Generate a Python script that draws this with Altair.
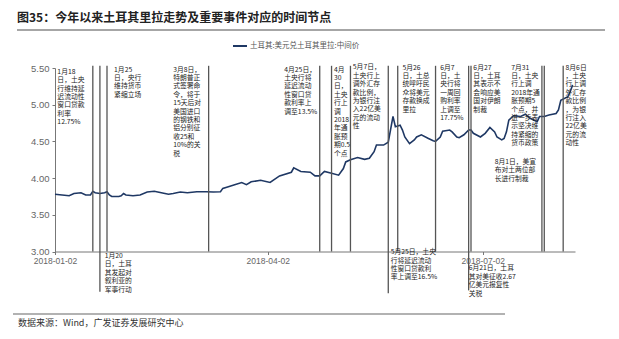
import altair as alt
import pandas as pd

# ---- series: USD/TRY central parity ----
dates = [
    "2018-01-02", "2018-01-05", "2018-01-08", "2018-01-10", "2018-01-13", "2018-01-15",
    "2018-01-17", "2018-01-18", "2018-01-19", "2018-01-21", "2018-01-23", "2018-01-24",
    "2018-01-25", "2018-01-26", "2018-01-29", "2018-01-30", "2018-01-31", "2018-02-01",
    "2018-02-04", "2018-02-07", "2018-02-10", "2018-02-13", "2018-02-16", "2018-02-19",
    "2018-02-21", "2018-02-24", "2018-02-27", "2018-03-03", "2018-03-07", "2018-03-10",
    "2018-03-13", "2018-03-14", "2018-03-16", "2018-03-19", "2018-03-22", "2018-03-24",
    "2018-03-26", "2018-03-30", "2018-04-03", "2018-04-07", "2018-04-12", "2018-04-13",
    "2018-04-16", "2018-04-20", "2018-04-22", "2018-04-24", "2018-04-26", "2018-04-29",
    "2018-05-02", "2018-05-04", "2018-05-05", "2018-05-07", "2018-05-10", "2018-05-13",
    "2018-05-15", "2018-05-17", "2018-05-18", "2018-05-21", "2018-05-23", "2018-05-25",
    "2018-05-26", "2018-05-28", "2018-05-29", "2018-05-30", "2018-06-01", "2018-06-03",
    "2018-06-04", "2018-06-06", "2018-06-09", "2018-06-11", "2018-06-12", "2018-06-14",
    "2018-06-15", "2018-06-18", "2018-06-19", "2018-06-21", "2018-06-22", "2018-06-24",
    "2018-06-26", "2018-06-27", "2018-06-28", "2018-07-01", "2018-07-03", "2018-07-05",
    "2018-07-07", "2018-07-08", "2018-07-10", "2018-07-11", "2018-07-12", "2018-07-13",
    "2018-07-15", "2018-07-18", "2018-07-20", "2018-07-22", "2018-07-25", "2018-07-26",
    "2018-07-28", "2018-07-30", "2018-08-02", "2018-08-03", "2018-08-04", "2018-08-07",
    "2018-08-08", "2018-08-09",
]
rates = [
    3.78, 3.77, 3.76, 3.79, 3.80, 3.77,
    3.77, 3.82, 3.80, 3.79, 3.80, 3.815,
    3.77, 3.75, 3.75, 3.76, 3.79, 3.77,
    3.76, 3.77, 3.81, 3.82, 3.80, 3.78,
    3.79, 3.81, 3.80, 3.815, 3.815, 3.81,
    3.815, 3.86, 3.88, 3.91, 3.94, 3.91,
    3.95, 3.97, 3.94, 4.03, 4.08, 4.14,
    4.09, 4.08, 4.03, 4.03, 4.09, 4.065,
    4.04, 4.13, 4.22, 4.25, 4.28, 4.255,
    4.27, 4.36, 4.45, 4.45, 4.49, 4.84,
    4.70, 4.72, 4.655, 4.56, 4.47, 4.52,
    4.56, 4.59, 4.54, 4.51, 4.50, 4.56,
    4.64, 4.655, 4.63, 4.56, 4.55, 4.59,
    4.655, 4.655, 4.61, 4.56, 4.61, 4.69,
    4.63, 4.56, 4.52, 4.54, 4.63, 4.79,
    4.85, 4.84, 4.87, 4.815, 4.77, 4.84,
    4.84, 4.86, 4.88, 4.93, 5.06, 5.11,
    5.18, 5.27,
]

# ---- event marker lines ----
event_dates = [
    "2018-01-18", "2018-01-21", "2018-01-24", "2018-03-08", "2018-04-24",
    "2018-04-29", "2018-05-07", "2018-05-23", "2018-05-27", "2018-06-12",
    "2018-06-26", "2018-06-27", "2018-07-27", "2018-07-28", "2018-08-05",
]
event_top = [5.53] * 15
event_bottom = [3.0, 2.45, 3.0, 3.0, 3.0, 3.0, 3.0, 2.43, 3.0, 3.0, 2.47, 3.0, 3.0, 3.0, 3.0]

# ---- annotations ----
note_texts = [
    "1月18\n日，土央\n行维持延\n迟流动性\n窗口贷款\n利率\n12.75%",
    "1月25\n日，央行\n维持货币\n紧缩立场",
    "3月8日，\n特朗普正\n式签署命\n令，将于\n15天后对\n美国进口\n的钢铁和\n铝分别征\n收25和\n10%的关\n税",
    "4月25日，\n土央行将\n延迟流动\n性窗口贷\n款利率上\n调至13.5%",
    "4月\n30\n日，\n土央\n行上\n调\n2018\n年通\n胀预\n期0.5\n个点",
    "5月7日，\n土央行上\n调外汇存\n款比例，\n为银行注\n入22亿美\n元的流动\n性",
    "5月26\n日，土总\n统呼吁民\n众将美元\n存款换成\n里拉",
    "6月7\n日，土\n央行将\n一周回\n购利率\n上调至\n17.75%",
    "6月27\n日，土耳\n其表示不\n会响应美\n国对伊朗\n制裁",
    "7月31\n日，土央\n行上调\n2018年通\n胀预期5\n个点，并\n进一步表\n示坚决维\n持紧缩的\n货币政策",
    "8月6日\n，土央\n行上调\n外汇存\n款比例\n，为银\n行注入\n22亿美\n元的流\n动性",
    "8月1日，美宣\n布对土两位部\n长进行制裁",
    "1月20\n日，土耳\n其发起对\n叙利亚的\n军事行动",
    "5月25日，土央\n行将延迟流动\n性窗口贷款利\n率上调至16.5%",
    "6月21日，土耳\n其对美征收2.67\n亿美元报复性\n关税",
]
note_dates = [
    "2018-01-03", "2018-01-27", "2018-02-21", "2018-04-09", "2018-04-30",
    "2018-05-08", "2018-05-29", "2018-06-14", "2018-06-28", "2018-07-14",
    "2018-08-06", "2018-07-07", "2018-01-23", "2018-05-24", "2018-06-26",
]
note_levels = [5.49, 5.52, 5.52, 5.52, 5.52, 5.55, 5.545, 5.545, 5.545, 5.545,
               5.545, 4.26, 2.98, 3.03, 2.81]

y_ticks = [3.0, 3.5, 4.0, 4.5, 5.0, 5.5]
title_text = "图35：今年以来土耳其里拉走势及重要事件对应的时间节点"
legend_text = "土耳其:美元兑土耳其里拉:中间价"
source_text = "数据来源：Wind，广发证券发展研究中心"

series_df = pd.DataFrame({"date": dates, "rate": rates})
events_df = pd.DataFrame({"date": event_dates, "top": event_top, "bottom": event_bottom})
notes_df = pd.DataFrame({"date": note_dates, "level": note_levels, "note": note_texts})
one = pd.DataFrame({"k": [0]})

xscale = alt.Scale(
    type="utc",
    domain=[alt.DateTime(year=2018, month=1, date=2, utc=True),
            alt.DateTime(year=2018, month=8, date=10, utc=True)],
)
yscale = alt.Scale(domain=[3.0, 5.5], zero=False, nice=False)

xaxis = alt.Axis(
    values=[alt.DateTime(year=2018, month=1, date=2, utc=True),
            alt.DateTime(year=2018, month=4, date=2, utc=True),
            alt.DateTime(year=2018, month=7, date=2, utc=True)],
    labelExpr="utcFormat(datum.value, '%Y-%m-%d')", title=None, grid=False,
    domainColor="#777", tickColor="#777", tickSize=3, labelPadding=2,
    labelFont="Liberation Sans", labelFontSize=8.5, labelColor="#666",
    labelFlush=False, labelOverlap=False,
)
yaxis = alt.Axis(
    values=y_ticks, format=".2f", title=None, grid=False,
    domainColor="#777", tickColor="#777", tickSize=3, labelPadding=3,
    labelFont="Liberation Sans", labelFontSize=9.5, labelColor="#666",
)

line = alt.Chart(series_df).mark_line(color="#1f3864", strokeWidth=1.6).encode(
    x=alt.X("date:T", scale=xscale, axis=xaxis),
    y=alt.Y("rate:Q", scale=yscale, axis=yaxis),
)

rules = alt.Chart(events_df).mark_rule(color="#555", strokeWidth=1.3, clip=False).encode(
    x=alt.X("date:T", scale=xscale, axis=xaxis),
    y=alt.Y("top:Q", scale=yscale, axis=yaxis),
    y2="bottom:Q",
)

notes = alt.Chart(notes_df).mark_text(
    align="left", baseline="top", lineBreak="\n", fontSize=6.8, lineHeight=8.4,
    font="Noto Sans CJK SC", color="#222", clip=False,
).encode(
    x=alt.X("date:T", scale=xscale, axis=xaxis),
    y=alt.Y("level:Q", scale=yscale, axis=yaxis),
    text="note:N",
)

title = alt.Chart(one).mark_text(
    align="left", baseline="middle", fontSize=12, fontWeight="bold",
    font="Noto Sans CJK SC", color="#222",
).encode(x=alt.value(-38), y=alt.value(-50), text=alt.value(title_text))

title_rule = alt.Chart(one).mark_rule(color="#888", strokeWidth=1.5).encode(
    x=alt.value(-38), x2=alt.value(550), y=alt.value(-38))

legend_line = alt.Chart(one).mark_rule(color="#1f3864", strokeWidth=2).encode(
    x=alt.value(178), x2=alt.value(192), y=alt.value(-22))

legend_label = alt.Chart(one).mark_text(
    align="left", baseline="middle", fontSize=7.5, font="Noto Sans CJK SC", color="#555",
).encode(x=alt.value(195), y=alt.value(-22), text=alt.value(legend_text))

foot_rule = alt.Chart(one).mark_rule(color="#999", strokeWidth=1.5).encode(
    x=alt.value(-42), x2=alt.value(450), y=alt.value(246))

foot_label = alt.Chart(one).mark_text(
    align="left", baseline="middle", fontSize=9, font="Noto Sans CJK SC", color="#333",
).encode(x=alt.value(-37), y=alt.value(255), text=alt.value(source_text))

chart = alt.layer(
    line, rules, notes, title, title_rule, legend_line, legend_label, foot_rule, foot_label
).properties(
    width=520, height=183.5,
    autosize=alt.AutoSizeParams(type="none"),
    padding={"left": 55, "top": 68, "right": 44, "bottom": 87.5},
    background="white",
).configure_view(stroke=None)

chart.save("out.html", embed_options={"renderer": "svg", "actions": False})
